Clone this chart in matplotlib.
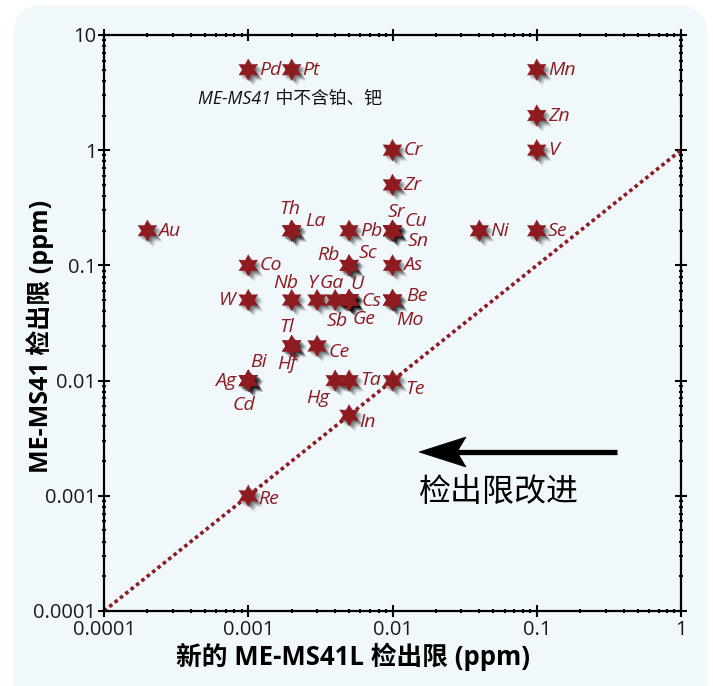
import matplotlib
matplotlib.use('Agg')
import matplotlib.pyplot as plt
from matplotlib.path import Path
from matplotlib.patches import FancyBboxPatch, Polygon
import matplotlib.patheffects as pe
import matplotlib.ticker as mticker
import numpy as np

# ---------------- data ----------------
elements = ['Au', 'Pd', 'Pt', 'Mn', 'Zn', 'V', 'Se', 'Cr', 'Zr', 'Sr', 'Cu', 'Sn',
            'Ni', 'Th', 'La', 'Pb', 'Co', 'Rb', 'Sc', 'As', 'W', 'Nb', 'Y', 'Ga',
            'U', 'Cs', 'Sb', 'Ge', 'Be', 'Mo', 'Tl', 'Hf', 'Ce', 'Bi', 'Ag', 'Cd',
            'Hg', 'Ta', 'Te', 'In', 'Re']
new_dl = [0.0002, 0.001, 0.002, 0.1, 0.1, 0.1, 0.1, 0.01, 0.01, 0.01, 0.01, 0.01,
          0.04, 0.002, 0.002, 0.005, 0.001, 0.005, 0.005, 0.01, 0.001, 0.002, 0.003, 0.004,
          0.005, 0.005, 0.005, 0.005, 0.01, 0.01, 0.002, 0.002, 0.003, 0.001, 0.001, 0.001,
          0.004, 0.005, 0.01, 0.005, 0.001]
old_dl = [0.2, 5, 5, 5, 2, 1, 0.2, 1, 0.5, 0.2, 0.2, 0.2,
          0.2, 0.2, 0.2, 0.2, 0.1, 0.1, 0.1, 0.1, 0.05, 0.05, 0.05, 0.05,
          0.05, 0.05, 0.05, 0.05, 0.05, 0.05, 0.02, 0.02, 0.02, 0.01, 0.01, 0.01,
          0.01, 0.01, 0.01, 0.005, 0.001]

tick_values = [0.0001, 0.001, 0.01, 0.1, 1, 10]
tick_labels = ['0.0001', '0.001', '0.01', '0.1', '1', '10']

xlabel_text = '新的 ME-MS41L 检出限 (ppm)'
ylabel_text = 'ME-MS41 检出限 (ppm)'
note_text = 'ME-MS41 中不含铂、钯'
arrow_text = '检出限改进'

# ---------------- layout / style ----------------
# label offsets in pixels (dx, dy, ha)
label_pos = {
    'Th': (-2, 22, 'center'), 'La': (14, 10, 'left'), 'Sr': (4, 19, 'center'),
    'Cu': (12, 10, 'left'), 'Sn': (15, -10, 'left'), 'Rb': (-21, 10, 'center'),
    'Sc': (19, 12, 'center'), 'W': (-13, 0, 'right'), 'Nb': (-6, 17, 'center'),
    'Y': (-5, 17, 'center'), 'Ga': (-3, 17, 'center'), 'U': (8, 16, 'center'),
    'Sb': (-12, -21, 'center'), 'Ge': (15, -19, 'center'), 'Be': (14, 4, 'left'),
    'Mo': (17, -20, 'center'), 'Tl': (-5, 19, 'center'), 'Hf': (-5, -18, 'center'),
    'Ce': (12, -6, 'left'), 'Bi': (10, 19, 'center'), 'Ag': (-12, 0, 'right'),
    'Cd': (-4, -24, 'center'), 'Hg': (-17, -17, 'center'), 'Ta': (11, 1, 'left'),
    'Te': (13, -8, 'left'), 'In': (10, -7, 'left'), 'Re': (10, -3, 'left'),
    'Cs': (13, -1, 'left'),
}
default_pos = (11, 0, 'left')

RED = '#8E1B1F'
LATIN = 'Open Sans'
CJK = 'Noto Sans CJK SC'

W, H = 713, 686
fig = plt.figure(figsize=(W / 100, H / 100), dpi=100)
fig.patch.set_facecolor('white')

bg = FancyBboxPatch((13 / W, -0.05), (708 - 13) / W, 1.05 - 5 / H,
                    boxstyle='round,pad=0,rounding_size=0.045',
                    transform=fig.transFigure, facecolor='#F0F8FC',
                    edgecolor='none', zorder=-10, mutation_aspect=W / H)
fig.add_artist(bg)

ax = fig.add_axes([104 / W, 1 - 611 / H, 577 / W, 576 / H])
ax.set_zorder(5)
ax.set_facecolor('none')
ax.set_xscale('log')
ax.set_yscale('log')
ax.set_xlim(1e-4, 1)
ax.set_ylim(1e-4, 10)

# 1:1 line
lims = [1e-4, 1]
ax.plot(lims, lims, color=RED, lw=2.6, ls=(0, (1, 0.9)), zorder=2,
        solid_capstyle='butt', dash_capstyle='butt')

# hexagram marker
n = 12
ang = np.deg2rad(90 + np.arange(n) * 30)
rad = np.where(np.arange(n) % 2 == 0, 1.0, 0.55)
verts = np.column_stack([rad * np.cos(ang), rad * np.sin(ang)])
verts = np.vstack([verts, verts[:1]])
codes = [Path.MOVETO] + [Path.LINETO] * (n - 1) + [Path.CLOSEPOLY]
star = Path(verts, codes)

shadow = [pe.SimplePatchShadow(offset=(o, -o), shadow_rgbFace='black', alpha=a, rho=1)
          for o, a in [(1.2, 0.18), (2.0, 0.18), (2.8, 0.15), (3.6, 0.10), (4.3, 0.06)]]
ax.plot(new_dl, old_dl, ls='none', marker=star, ms=15.5, mfc=RED, mec=RED, mew=0.3,
        zorder=4, path_effects=shadow + [pe.Normal()])

for el, xv, yv in zip(elements, new_dl, old_dl):
    dx, dy, ha = label_pos.get(el, default_pos)
    ax.annotate(el, (xv, yv), xytext=(dx, dy), textcoords='offset pixels',
                ha=ha, va='center', color=RED, fontsize=14, fontstyle='italic',
                family=LATIN, zorder=5)

# note
ax.text((198 - 104) / 577, (611 - 99) / 576, note_text, transform=ax.transAxes,
        ha='left', va='center', fontsize=12.8, fontstyle='italic',
        family=[LATIN, CJK], color='#111111')

# arrow
tip_x, y0 = (419 - 104) / 577, (611 - 452) / 576
ax.plot([(457 - 104) / 577, (617 - 104) / 577], [y0, y0], color='black', lw=3.8,
        transform=ax.transAxes, solid_capstyle='butt', zorder=3)
head = Polygon([[tip_x, y0],
                [(466 - 104) / 577, (611 - 437) / 576],
                [(457 - 104) / 577, y0],
                [(466 - 104) / 577, (611 - 467) / 576]],
               closed=True, transform=ax.transAxes, facecolor='black',
               edgecolor='black', lw=0.5, zorder=3)
ax.add_patch(head)
ax.text((419 - 104) / 577, (611 - 492) / 576, arrow_text, transform=ax.transAxes,
        ha='left', va='center', fontsize=23, family=[CJK], color='black')

# ticks
for axis in (ax.xaxis, ax.yaxis):
    axis.set_minor_locator(mticker.LogLocator(base=10, subs=np.arange(2, 10), numticks=20))
    axis.set_minor_formatter(mticker.NullFormatter())
ax.set_xticks(tick_values[:-1])
ax.set_xticklabels(tick_labels[:-1])
ax.set_yticks(tick_values)
ax.set_yticklabels(tick_labels)
ax.set_xlim(1e-4, 1)
ax.set_ylim(1e-4, 10)

ax.tick_params(which='major', direction='inout', length=8, width=1.5,
               top=True, right=True, labelsize=14.5, colors='black')
ax.tick_params(axis='x', which='major', pad=2.5)
ax.tick_params(axis='y', which='major', pad=1.5)
ax.tick_params(which='minor', direction='inout', length=3.5, width=1.5,
               top=True, right=True)
for lab in ax.get_xticklabels() + ax.get_yticklabels():
    lab.set_family(LATIN)
    lab.set_color('#1a1a1a')
for s in ax.spines.values():
    s.set_linewidth(1.6)
    s.set_color('black')

ax.set_xlabel(xlabel_text, fontsize=18.5, fontweight='bold', family=[LATIN, CJK])
ax.set_ylabel(ylabel_text, fontsize=18, fontweight='bold', family=[LATIN, CJK])
ax.xaxis.set_label_coords((353 - 104) / 577, -(643 - 611) / 576)
ax.yaxis.set_label_coords(-(104 - 54) / 577, (611 - 336) / 576)

fig.savefig('out.png', dpi=100, facecolor='white')
